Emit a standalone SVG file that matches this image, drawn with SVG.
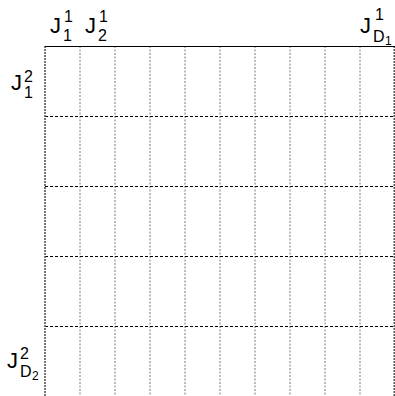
<svg xmlns="http://www.w3.org/2000/svg" width="395" height="396" viewBox="0 0 395 396">
<style>
.bg{fill:#fff}
.vd{stroke:#7a7a7a;stroke-width:1;stroke-dasharray:2,1.5;fill:none}
.ed{stroke:#555;stroke-width:1.6;stroke-dasharray:2,1;fill:none}
.hd{stroke:#000;stroke-width:1;stroke-dasharray:3,2;fill:none}
.top{stroke:#000;stroke-width:1.2;fill:none}
text{font-family:'Liberation Sans',Arial,Helvetica,sans-serif;fill:#000}
.j{font-size:22px}
.s{font-size:16px}
.d{font-size:16px}
.dd{font-size:12px}
</style>
<rect class="bg" x="0" y="0" width="395" height="396"/>
<g id="grid">
<path class="vd" d="M80,46V396M115,46V396M150,46V396M185,46V396M220,46V396M255,46V396M290,46V396M325,46V396M360,46V396"/>
<path class="hd" d="M45,116.5H395M45,186.5H395M45,256.5H395M45,326.5H395"/>
<path class="ed" d="M45,46V396M394.3,46V396"/>
<path class="top" d="M45,46.5H395"/>
</g>
<g id="col1"><text class="j" x="50" y="33">J</text><text class="s" x="64" y="22">1</text><text class="s" x="63" y="41">1</text></g>
<g id="col2"><text class="j" x="85" y="33">J</text><text class="s" x="99" y="22">1</text><text class="s" x="98" y="41">2</text></g>
<g id="colD"><text class="j" x="360" y="33">J</text><text class="s" x="375" y="20">1</text><text class="d" x="373" y="42">D</text><text class="dd" x="385" y="45">1</text></g>
<g id="row1"><text class="j" x="11" y="90">J</text><text class="s" x="24" y="82">2</text><text class="s" x="24" y="98">1</text></g>
<g id="rowD"><text class="j" x="7" y="368">J</text><text class="s" x="20" y="359">2</text><text class="d" x="20" y="377">D</text><text class="dd" x="32" y="380">2</text></g>
</svg>
